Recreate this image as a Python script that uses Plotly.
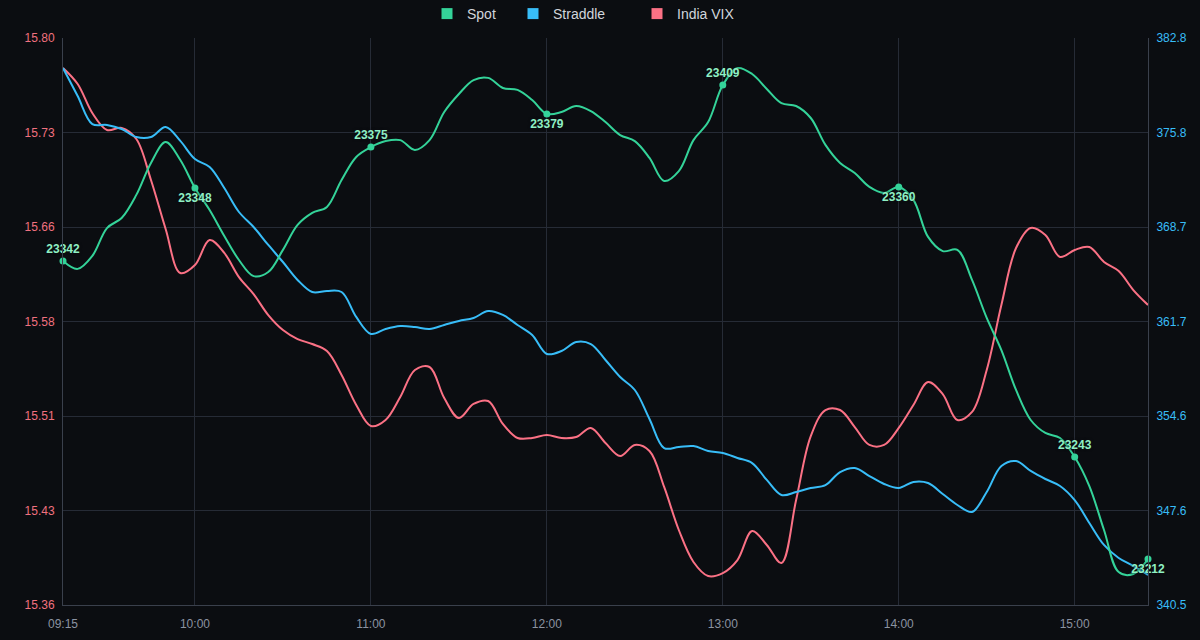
import plotly.graph_objects as go

# ---- data ----
times = []
h, m = 9, 15
while (h, m) <= (15, 25):
    times.append(f"{h:02d}:{m:02d}")
    m += 5
    if m >= 60:
        m -= 60
        h += 1

spot = [23336.2, 23332.9, 23338.3, 23349.9, 23354.1, 23363.7, 23377.0, 23385.7, 23378.2, 23366.6,
        23357.4, 23346.6, 23336.6, 23329.9, 23331.6, 23340.8, 23351.2, 23356.2, 23358.7, 23369.9,
        23379.5, 23383.6, 23386.1, 23386.5, 23382.4, 23386.5, 23398.2, 23405.7, 23411.5, 23412.4,
        23408.2, 23407.4, 23403.2, 23397.4, 23398.2, 23400.7, 23398.6, 23394.0, 23388.6, 23386.1,
        23379.1, 23369.5, 23373.6, 23386.5, 23394.0, 23409.4, 23416.5, 23414.0, 23407.8, 23401.9,
        23400.7, 23395.7, 23384.5, 23377.0, 23372.8, 23367.0, 23364.5, 23367.0, 23361.6, 23346.2,
        23340.3, 23340.8, 23328.3, 23312.5, 23299.1, 23282.5, 23270.0, 23264.6, 23262.5, 23254.6,
        23242.5, 23224.2, 23206.7, 23205.9, 23212.1]

straddle = [380.56, 378.47, 376.38, 376.31, 376.01, 375.41, 375.41, 376.16, 375.12, 373.77,
            373.18, 371.61, 369.82, 368.70, 367.36, 366.09, 364.75, 363.85, 363.93, 363.85,
            361.99, 360.72, 361.09, 361.31, 361.24, 361.09, 361.39, 361.69, 361.91, 362.43,
            362.14, 361.39, 360.64, 359.23, 359.45, 360.12, 359.97, 358.78, 357.51, 356.54,
            354.38, 352.21, 352.29, 352.36, 351.99, 351.84, 351.47, 351.09, 349.83, 348.71,
            348.93, 349.23, 349.45, 350.42, 350.72, 350.12, 349.53, 349.23, 349.68, 349.60,
            348.78, 347.96, 347.44, 348.93, 350.87, 351.24, 350.50, 349.90, 349.38, 348.33,
            346.62, 344.98, 344.01, 343.41, 342.74]

vix = [15.7767, 15.7643, 15.7418, 15.7286, 15.7302, 15.7216, 15.6898, 15.6518, 15.6176, 15.6238,
       15.6432, 15.6332, 15.6145, 15.6013, 15.5850, 15.5734, 15.5664, 15.5625, 15.5571, 15.5385,
       15.5152, 15.4989, 15.5036, 15.5214, 15.5424, 15.5447, 15.5206, 15.5051, 15.5160, 15.5183,
       15.5005, 15.4896, 15.4896, 15.4919, 15.4896, 15.4904, 15.4974, 15.4857, 15.4756, 15.4842,
       15.4795, 15.4516, 15.4182, 15.3934, 15.3825, 15.3848, 15.3949, 15.4174, 15.4066, 15.3926,
       15.4415, 15.4911, 15.5113, 15.5113, 15.4981, 15.4842, 15.4842, 15.4974, 15.5152, 15.5330,
       15.5237, 15.5036, 15.5098, 15.5424, 15.5928, 15.6370, 15.6526, 15.6471, 15.6301, 15.6355,
       15.6378, 15.6262, 15.6192, 15.6044, 15.5928]

label_times = ["09:15", "10:00", "11:00", "12:00", "13:00", "14:00", "15:00", "15:25"]
label_texts = ["23342", "23348", "23375", "23379", "23409", "23360", "23243", "23212"]
label_pos = ["top center", "bottom center"] * 4

x_ticks = ["09:15", "10:00", "11:00", "12:00", "13:00", "14:00", "15:00"]
vix_ticktext = ["15.36", "15.43", "15.51", "15.58", "15.66", "15.73", "15.80"]
straddle_ticktext = ["340.5", "347.6", "354.6", "361.7", "368.7", "375.8", "382.8"]

# ---- styling ----
BG = "#0b0d11"
GRID = "#262b36"
C_SPOT = "#34d399"
C_STR = "#38bdf8"
C_VIX = "#fb7185"
FONT = "Liberation Sans, Arial, sans-serif"

vix_lo, vix_hi = 15.36, 15.80
str_lo, str_hi = 340.5, 382.8
spot_lo, spot_hi = 23193, 23429

fig = go.Figure()

fig.add_trace(go.Scatter(x=times, y=vix, mode="lines", name="India VIX",
                         line=dict(color=C_VIX, width=2, shape="spline"),
                         yaxis="y", showlegend=False))
fig.add_trace(go.Scatter(x=times, y=straddle, mode="lines", name="Straddle",
                         line=dict(color=C_STR, width=2, shape="spline"),
                         yaxis="y2", showlegend=False))
fig.add_trace(go.Scatter(x=times, y=spot, mode="lines", name="Spot",
                         line=dict(color=C_SPOT, width=2, shape="spline"),
                         yaxis="y3", showlegend=False))

idx = [times.index(t) for t in label_times]
fig.add_trace(go.Scatter(x=label_times, y=[spot[i] for i in idx], mode="markers+text",
                         text=label_texts, textposition=label_pos,
                         textfont=dict(color="#8ff0c4", size=12, family=FONT, weight="bold",
                                       shadow="0px 0px 3px #0b0d11"),
                         marker=dict(color=C_SPOT, size=7),
                         yaxis="y3", showlegend=False, cliponaxis=False))

# legend entries (square swatches), each in its own legend box
legend_items = [("Spot", C_SPOT, "legend"), ("Straddle", C_STR, "legend2"),
                ("India VIX", C_VIX, "legend3")]
legend_left_px = [427, 513, 637]
for name, col, lg in legend_items:
    fig.add_trace(go.Scatter(x=[None], y=[None], mode="markers", name=name,
                             marker=dict(color=col, size=11, symbol="square"),
                             yaxis="y", showlegend=True, legend=lg))

vix_tickvals = [vix_lo + k * (vix_hi - vix_lo) / 6 for k in range(7)]
str_tickvals = [str_lo + k * (str_hi - str_lo) / 6 for k in range(7)]

def legend_box(px):
    return dict(orientation="h", xref="container", yref="container",
                x=px / 1200, xanchor="left", y=1 - 14 / 640, yanchor="middle",
                font=dict(size=14, color="#d1d5db"), bgcolor="rgba(0,0,0,0)",
                itemwidth=30)

fig.update_layout(
    width=1200, height=640,
    paper_bgcolor=BG, plot_bgcolor=BG,
    margin=dict(l=63, r=52, t=38, b=35, autoexpand=False),
    font=dict(family=FONT, color="#cbd5e1", size=12),
    legend=legend_box(legend_left_px[0]),
    legend2=legend_box(legend_left_px[1]),
    legend3=legend_box(legend_left_px[2]),
    xaxis=dict(type="category", range=[0, len(times) - 1], tickvals=x_ticks,
               showgrid=True, gridcolor=GRID, gridwidth=1,
               showline=True, linecolor="#3a404c", linewidth=1,
               ticks="", ticklabelstandoff=8,
               tickfont=dict(color="#8b93a1", size=12), zeroline=False),
    yaxis=dict(range=[vix_lo, vix_hi], tickvals=vix_tickvals, ticktext=vix_ticktext,
               showgrid=True, gridcolor=GRID, gridwidth=1, zeroline=False,
               showline=True, linecolor="#3a404c", linewidth=1, ticklabelstandoff=5,
               tickfont=dict(color="#f0717f", size=12)),
    yaxis2=dict(range=[str_lo, str_hi], tickvals=str_tickvals, ticktext=straddle_ticktext,
                overlaying="y", side="right", showgrid=False, zeroline=False,
                showline=True, linecolor="#3a404c", linewidth=1, ticklabelstandoff=5,
                tickfont=dict(color=C_STR, size=12)),
    yaxis3=dict(range=[spot_lo, spot_hi], overlaying="y", visible=False,
                showgrid=False, zeroline=False),
    hovermode=False,
)

fig.write_html("out.html")
